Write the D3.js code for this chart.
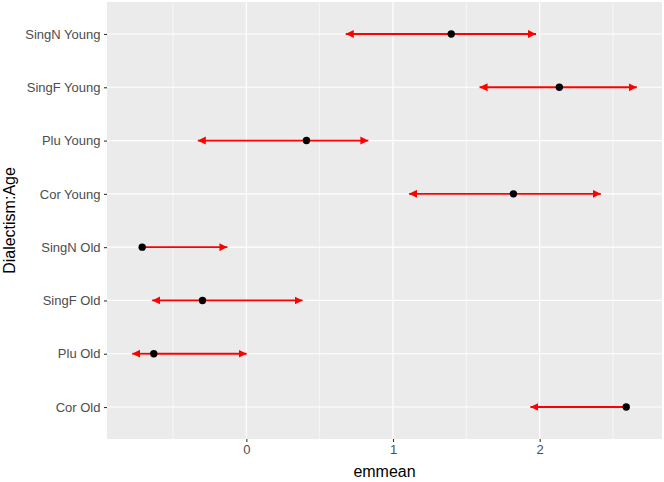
<!DOCTYPE html>
<html>
<head>
<meta charset="utf-8">
<script src="https://cdn.jsdelivr.net/npm/d3@7"></script>
<style>
  body { margin: 0; background: #fff; }
  text { font-family: "Liberation Sans", Arial, sans-serif; }
</style>
</head>
<body>
<div id="container"></div>
<script>
// Data (bottom to top)
var groups = ["Cor Old", "Plu Old", "SingF Old", "SingN Old",
              "Cor Young", "Plu Young", "SingF Young", "SingN Young"];
var emmeans = [2.590, -0.631, -0.299, -0.710, 1.821, 0.410, 2.134, 1.397];
// arrow tips (null = no arrow drawn)
var lowerTips = [1.937, -0.778, -0.642, null, 1.109, -0.331, 1.590, 0.678];
var upperTips = [null, 0.002, 0.383, -0.129, 2.417, 0.832, 2.662, 1.975];
var xTicks = [0, 1, 2];
var xMinor = [-0.5, 0.5, 1.5, 2.5];

var width = 664, height = 482;
var margin = {top: 2, right: 2, bottom: 43, left: 107};
var pw = width - margin.left - margin.right;
var ph = height - margin.top - margin.bottom;

var svg = d3.select("#container").append("svg")
    .attr("width", width)
    .attr("height", height);

// x domain from data, with ggplot's 5% expansion
var all = emmeans.concat(lowerTips, upperTips).filter(function(d) { return d !== null; });
var lo = d3.min(all), hi = d3.max(all), pad = (hi - lo) * 0.05;
var x = d3.scaleLinear().domain([lo - pad, hi + pad]).range([0, pw]);

// discrete y with 0.6 expansion each side
var y = d3.scaleLinear().domain([0.4, groups.length + 0.6]).range([ph, 0]);
function yPos(i) { return y(i + 1); }

var g = svg.append("g")
    .attr("transform", "translate(" + margin.left + "," + margin.top + ")");

g.append("rect").attr("width", pw).attr("height", ph).attr("fill", "#EBEBEB");

// minor grid
g.selectAll(".minor").data(xMinor).enter().append("line")
    .attr("x1", function(d) { return x(d); }).attr("x2", function(d) { return x(d); })
    .attr("y1", 0).attr("y2", ph)
    .attr("stroke", "#fff").attr("stroke-width", 0.6);

// major grid
g.selectAll(".majx").data(xTicks).enter().append("line")
    .attr("x1", function(d) { return x(d); }).attr("x2", function(d) { return x(d); })
    .attr("y1", 0).attr("y2", ph)
    .attr("stroke", "#fff").attr("stroke-width", 1.2);
g.selectAll(".majy").data(groups).enter().append("line")
    .attr("x1", 0).attr("x2", pw)
    .attr("y1", function(d, i) { return yPos(i); }).attr("y2", function(d, i) { return yPos(i); })
    .attr("stroke", "#fff").attr("stroke-width", 1.2);

// arrowhead
svg.append("defs").append("marker")
    .attr("id", "head")
    .attr("viewBox", "0 0 10 10")
    .attr("refX", 10).attr("refY", 5)
    .attr("markerWidth", 8).attr("markerHeight", 8.5)
    .attr("markerUnits", "userSpaceOnUse")
    .attr("orient", "auto")
  .append("path")
    .attr("d", "M0,0L10,5L0,10Z")
    .attr("fill", "#FF0000");

function drawArrows(tips) {
  var rows = [];
  tips.forEach(function(t, i) { if (t !== null) rows.push({i: i, t: t}); });
  g.append("g").selectAll("line").data(rows).enter().append("line")
      .attr("x1", function(d) { return x(emmeans[d.i]); })
      .attr("x2", function(d) { return x(d.t); })
      .attr("y1", function(d) { return yPos(d.i); })
      .attr("y2", function(d) { return yPos(d.i); })
      .attr("stroke", "#FF0000")
      .attr("stroke-width", 1.8)
      .attr("marker-end", "url(#head)");
}
drawArrows(lowerTips);
drawArrows(upperTips);

// points
g.selectAll(".pt").data(emmeans).enter().append("circle")
    .attr("cx", function(d) { return x(d); })
    .attr("cy", function(d, i) { return yPos(i); })
    .attr("r", 3.7)
    .attr("fill", "#000");

// x axis
var xAxis = g.append("g")
    .attr("transform", "translate(0," + ph + ")")
    .call(d3.axisBottom(x).tickValues(xTicks).tickSize(3).tickPadding(3).tickFormat(d3.format("d")));
xAxis.select(".domain").remove();
xAxis.selectAll("line").attr("stroke", "#333").attr("stroke-width", 1.1);
xAxis.selectAll("text").attr("fill", "#4D4D4D").style("font-size", "13px");

// y axis
var yAxis = g.append("g")
    .call(d3.axisLeft(y).tickValues(d3.range(1, groups.length + 1))
      .tickFormat(function(d) { return groups[d - 1]; })
      .tickSize(3).tickPadding(3.5));
yAxis.select(".domain").remove();
yAxis.selectAll("line").attr("stroke", "#333").attr("stroke-width", 1.1);
yAxis.selectAll("text").attr("fill", "#4D4D4D").style("font-size", "13px");

// axis titles
svg.append("text")
    .attr("x", margin.left + pw / 2)
    .attr("y", 477)
    .attr("text-anchor", "middle")
    .style("font-size", "16px")
    .text("emmean");

svg.append("text")
    .attr("transform", "translate(15," + (margin.top + ph / 2) + ") rotate(-90)")
    .attr("text-anchor", "middle")
    .style("font-size", "16px")
    .text("Dialectism:Age");
</script>
</body>
</html>
